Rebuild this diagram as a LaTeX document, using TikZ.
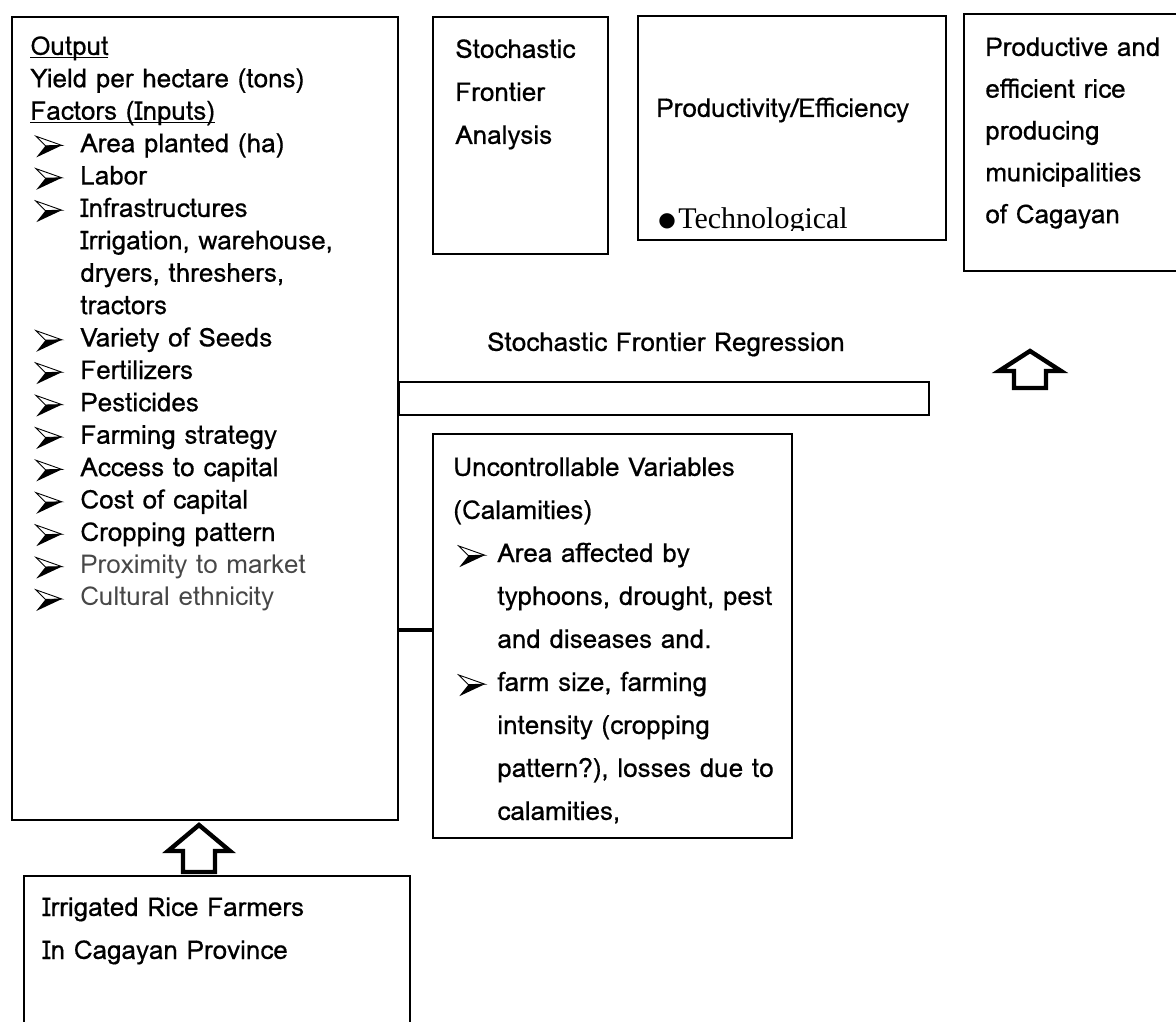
\documentclass[tikz,border=0pt]{standalone}
\usepackage{fontspec}
\setmainfont{Loma}[FakeBold=0.5]
\newfontfamily\litefont{Loma}
\newfontfamily\symfont{DejaVu Sans}
\newfontfamily\timesfont{Liberation Serif}
\usetikzlibrary{positioning}

% wingdings-like arrowhead bullet
\newcommand{\arrowhd}{\tikz[baseline=0pt, x=1pt, y=1pt, line join=miter]{%
  \draw[line width=0.45pt, fill=white] (0,8) -- (13,3.4) -- (4.8,3.2) -- cycle;
  \fill (0.2,-2.6) -- (13,3.4) -- (4.8,3.2) -- cycle;}}
% bullet, optional arg = indent of the item text
\newcommand{\bul}[1][25pt]{\hspace*{2.5pt}\makebox[\dimexpr#1-2.5pt\relax][l]{\arrowhd}}
\newcommand{\ind}[1][25pt]{\hspace*{#1}}
\newcommand{\lite}{\litefont\color{black!72}}
\newcommand{\ulin}[1]{\underline{\smash{#1}}}
% hollow block arrow pointing up: tip, head depth, total length
\newcommand{\hollowup}[3]{%
  \draw[blockarrow] (#1) -- ++(31,#2) -- ++(-15,0) -- ++(0,{#3-#2}) -- ++(-32,0)
    -- ++(0,{#2-#3}) -- ++(-15,0) -- cycle;}

\tikzset{
  box/.style={draw, line width=1pt, rectangle, anchor=north west, inner sep=0pt},
  txt/.style={anchor=base west, inner sep=0pt, font=\fontsize{13}{16}\selectfont},
  blockarrow/.style={draw, line width=2.2pt, fill=white, line join=miter},
}

\begin{document}
\begin{tikzpicture}[x=0.5pt, y=-0.5pt]
  \useasboundingbox (0,0) rectangle (1176,1021);

  % boxes
  \node[box, minimum width=193pt, minimum height=401.5pt] (inputs) at (11,16) {};
  \node[box, minimum width=87.5pt, minimum height=118.5pt] (sfa) at (432,16) {};
  \node[box, minimum width=154pt, minimum height=112pt] (prodeff) at (637,15) {};
  \node[box, minimum width=110pt, minimum height=128.5pt] (result) at (963,13) {};
  \node[box, minimum width=265pt, minimum height=16.5pt] (regbar) at (398,381) {};
  \node[box, minimum width=179.5pt, minimum height=202pt] (calam) at (432,433) {};
  \node[box, minimum width=193pt, minimum height=80pt] (farmers) at (23,875) {};

  % inputs list
  \foreach \entry [count=\i from 0] in {
    {\ulin{Output}},
    {Yield per hectare (tons)},
    {\ulin{Factors (Inputs)}},
    {\bul Area planted (ha)},
    {\bul Labor},
    {\bul Infrastructures},
    {\ind Irrigation, warehouse,},
    {\ind dryers, threshers,},
    {\ind tractors},
    {\bul Variety of Seeds},
    {\bul Fertilizers},
    {\bul Pesticides},
    {\bul Farming strategy},
    {\bul Access to capital},
    {\bul Cost of capital},
    {\bul Cropping pattern},
    {\bul\lite Proximity to market},
    {\bul\lite Cultural ethnicity}}
    \node[txt] (in\i) at (30,{55+32.4*\i}) {\entry};

  % method
  \foreach \entry [count=\i from 0] in {Stochastic, Frontier, Analysis}
    \node[txt] (sfa\i) at (455,{58+43*\i}) {\entry};

  \node[txt] (prodtxt) at (656,117) {Productivity/Efficiency};
  \begin{scope}
    \clip (637,15) rectangle (945,231);
    \node[txt, font=\timesfont\fontsize{15}{15}\selectfont] (techtxt) at (658,229)
      {\raisebox{1.2pt}{\symfont\fontsize{10}{10}\selectfont ●}\hspace{1.2pt}Technological};
  \end{scope}

  % outcome
  \foreach \entry [count=\i from 0] in {Productive and, efficient rice,
      producing, municipalities, of Cagayan}
    \node[txt] (res\i) at (985,{56+41.8*\i}) {\entry};

  \node[txt, anchor=base] (regtxt) at (666,351) {Stochastic Frontier Regression};

  % calamities
  \foreach \entry [count=\i from 0] in {
    {Uncontrollable Variables},
    {(Calamities)},
    {\bul[22pt]Area affected by},
    {\ind[22pt]typhoons, drought, pest},
    {\ind[22pt]and diseases and.},
    {\bul[22pt]farm size, farming},
    {\ind[22pt]intensity (cropping},
    {\ind[22pt]pattern?), losses due to},
    {\ind[22pt]calamities,}}
    \node[txt] (cal\i) at (453,{476+43*\i}) {\entry};

  \foreach \entry [count=\i from 0] in {Irrigated Rice Farmers, In Cagayan Province}
    \node[txt] (farm\i) at (42,{916+43*\i}) {\entry};

  % connectors
  \draw[line width=2pt] ([yshift=3pt]calam.west) -- ([yshift=3pt]calam.west -| inputs.east);
  \coordinate (uptip) at (199,825);
  \hollowup{uptip}{26}{47}
  \coordinate (righttip) at (1030,351);
  \hollowup{righttip}{20}{37}
\end{tikzpicture}
\end{document}
